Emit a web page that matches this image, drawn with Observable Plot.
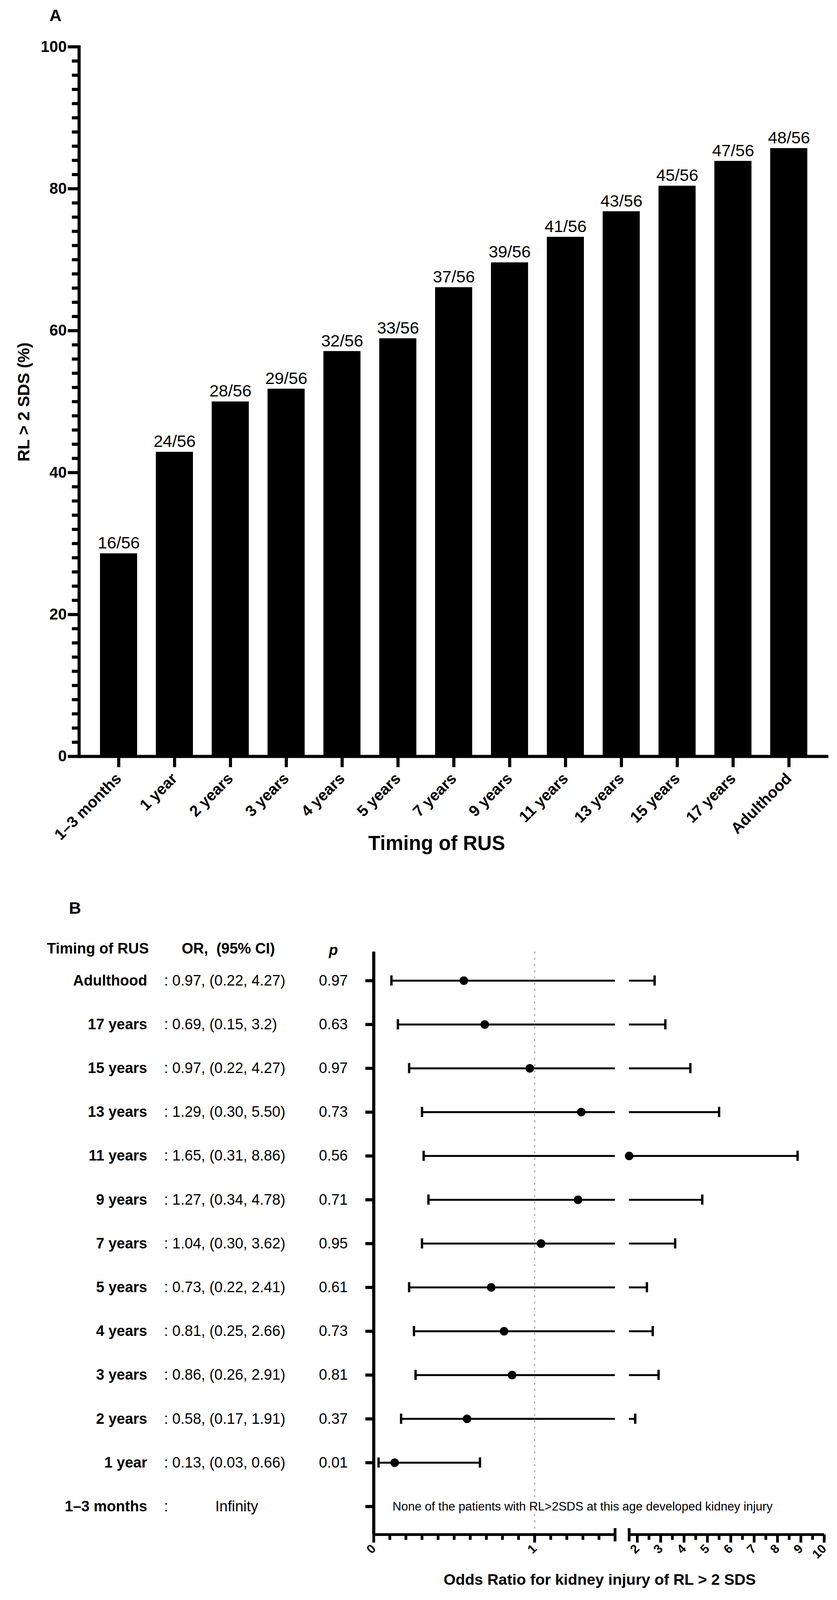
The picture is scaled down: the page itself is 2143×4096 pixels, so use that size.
<!DOCTYPE html>
<html>
<head>
<meta charset="utf-8">
<script src="https://cdn.jsdelivr.net/npm/d3@7"></script>
<script src="https://cdn.jsdelivr.net/npm/@observablehq/plot@0.6"></script>
<style>
html,body{margin:0;padding:0;background:#fff;}
body{width:2143px;height:4096px;overflow:hidden;}
#root{position:relative;width:2143px;height:4096px;font-family:"Liberation Sans",Arial,Helvetica,sans-serif;color:#000;}
.lbl{position:absolute;white-space:pre;line-height:1;transform:translate(-50%,-50%);font-weight:bold;}
</style>
</head>
<body>
<div id="root"></div>
<script>
// ---------- Panel A data ----------
const timings = ["1–3 months", "1 year", "2 years", "3 years", "4 years", "5 years", "7 years", "9 years", "11 years", "13 years", "15 years", "17 years", "Adulthood"];
const pctValues = [28.6, 42.9, 50.0, 51.8, 57.1, 58.9, 66.1, 69.6, 73.2, 76.8, 80.4, 83.9, 85.7];
const countLabels = ["16/56", "24/56", "28/56", "29/56", "32/56", "33/56", "37/56", "39/56", "41/56", "43/56", "45/56", "47/56", "48/56"];
const yMajorTicks = [0, 20, 40, 60, 80, 100];

// ---------- Panel B data ----------
const forestRows = ["Adulthood", "17 years", "15 years", "13 years", "11 years", "9 years", "7 years", "5 years", "4 years", "3 years", "2 years", "1 year", "1–3 months"];
const orLabels = [": 0.97, (0.22, 4.27)", ": 0.69, (0.15, 3.2)", ": 0.97, (0.22, 4.27)", ": 1.29, (0.30, 5.50)", ": 1.65, (0.31, 8.86)", ": 1.27, (0.34, 4.78)", ": 1.04, (0.30, 3.62)", ": 0.73, (0.22, 2.41)", ": 0.81, (0.25, 2.66)", ": 0.86, (0.26, 2.91)", ": 0.58, (0.17, 1.91)", ": 0.13, (0.03, 0.66)", ":"];
const pLabels = ["0.97", "0.63", "0.97", "0.73", "0.56", "0.71", "0.95", "0.61", "0.73", "0.81", "0.37", "0.01", ""];
// plotted positions
const oddsPlotted  = [0.56, 0.69, 0.97, 1.29, 1.65, 1.27, 1.04, 0.73, 0.81, 0.86, 0.58, 0.13, null];
const ciLowPlotted = [0.11, 0.15, 0.22, 0.30, 0.31, 0.34, 0.30, 0.22, 0.25, 0.26, 0.17, 0.03, null];
const ciHighPlotted = [2.74, 3.2, 4.27, 5.50, 8.86, 4.78, 3.62, 2.41, 2.66, 2.91, 1.91, 0.66, null];
const oddsMajorTicks = [0, 1, 2, 3, 4, 5, 6, 7, 8, 9, 10];
const oddsMinorTicks = [0.1, 0.2, 0.3, 0.4, 0.5, 0.6, 0.7, 0.8, 0.9, 1.1, 1.2, 1.3, 1.4, 2.5, 3.5, 4.5, 5.5, 6.5, 7.5, 8.5, 9.5];
const axisBreak = [1.5, 1.65];
const tableHeaders = ["Timing of RUS", "OR,  (95% CI)", "p"];
const infinityLabel = "Infinity";
const noneNote = "None of the patients with RL>2SDS at this age developed kidney injury";

// ---------- layout ----------
const W = 2143;
const FONT = '"Liberation Sans", Arial, Helvetica, sans-serif';
const root = document.getElementById("root");
const baseStyle = {fontFamily: FONT, color: "#000", background: "white", overflow: "visible"};

// ---------- Panel A ----------
const A_H = 2250;
const barData = timings.map((t, i) => ({timing: t, pct: pctValues[i], label: countLabels[i]}));
const yMinorTicks = d3.range(2, 100, 2).filter(v => v % 20 !== 0);

const plotA = Plot.plot({
  width: W,
  height: A_H,
  marginLeft: 202,
  marginRight: 22,
  marginTop: 119.4,
  marginBottom: A_H - 1936,
  style: baseStyle,
  x: {type: "band", domain: timings, padding: 0.337, label: null},
  y: {domain: [0, 100], label: null},
  marks: [
    Plot.barY(barData, {x: "timing", y: "pct", fill: "#000"}),
    Plot.text(barData, {x: "timing", y: "pct", text: "label", lineAnchor: "bottom", dy: -12.7, fontSize: 43, fill: "#000"}),
    Plot.ruleY([0], {stroke: "#000", strokeWidth: 8}),
    Plot.frame({anchor: "left", stroke: "#000", strokeWidth: 8}),
    Plot.axisY({ticks: yMajorTicks, tickSize: 28.5, tickPadding: 3, strokeWidth: 8, fontSize: 40, fontWeight: "bold", label: null}),
    Plot.axisY({ticks: yMinorTicks, tickSize: 18, tickFormat: () => "", strokeWidth: 8, label: null}),
    Plot.axisX({tickSize: 28, tickPadding: 22, strokeWidth: 8, tickRotate: -45, fontSize: 40, fontWeight: "bold", label: null})
  ]
});
plotA.style.position = "absolute";
plotA.style.left = "0px";
plotA.style.top = "0px";
root.appendChild(plotA);

// ---------- Panel B ----------
const B_TOP = 2250;
const B_H = 4096 - B_TOP;
const B_ML = 956.4, B_MR = W - 2109.8, B_MT = 186, B_MB = 168;
const oddsDomain = [0, 1.5, 1.65, 10];
const oddsRange = [956.4, 1574.3, 1610.3, 2109.8];
const yDom = [-0.66, 12.64];
const rowPx = (B_H - B_MT - B_MB) / (yDom[1] - yDom[0]);
const CAP = 13 / rowPx;

const rows = forestRows.map((r, i) => ({row: r, i, or: orLabels[i], p: pLabels[i]}));
const est = forestRows.map((r, i) => ({i, or: oddsPlotted[i], lo: ciLowPlotted[i], hi: ciHighPlotted[i]})).filter(d => d.or != null);
const segs = [];
est.forEach(d => {
  if (d.hi <= axisBreak[0]) segs.push({i: d.i, x1: d.lo, x2: d.hi});
  else {
    segs.push({i: d.i, x1: d.lo, x2: axisBreak[0]});
    if (d.hi > axisBreak[1]) segs.push({i: d.i, x1: axisBreak[1], x2: d.hi});
  }
});
const caps = est.flatMap(d => [{i: d.i, x: d.lo}, {i: d.i, x: d.hi}]);
const axisSegs = [{x1: oddsDomain[0], x2: axisBreak[0]}, {x1: axisBreak[1], x2: oddsDomain[3]}];
const infRow = forestRows.indexOf("1–3 months");

// table columns (px)
const LABEL_R = 376.5, HEAD1_R = 380.5, VALUE_L = 419.5, ORHEAD_C = 584, INF_C = 605.7, P_C = 853, NOTE_L = 1004.6;

const plotB = Plot.plot({
  width: W,
  height: B_H,
  marginLeft: B_ML,
  marginRight: B_MR,
  marginTop: B_MT,
  marginBottom: B_MB,
  style: baseStyle,
  x: {type: "linear", domain: oddsDomain, range: oddsRange, label: null},
  y: {type: "linear", domain: yDom, reverse: true, label: null},
  marks: [
    Plot.ruleX([1], {stroke: "#a8a8a8", strokeWidth: 3, strokeDasharray: "5,11"}),
    Plot.ruleY(segs, {y: "i", x1: "x1", x2: "x2", stroke: "#000", strokeWidth: 5}),
    Plot.ruleX(caps, {x: "x", y1: d => d.i - CAP, y2: d => d.i + CAP, stroke: "#000", strokeWidth: 6}),
    Plot.dot(est, {x: "or", y: "i", r: 11, fill: "#000", stroke: null}),
    Plot.ruleX([0], {stroke: "#000", strokeWidth: 8}),
    Plot.ruleY(axisSegs, {y: () => yDom[1], x1: "x1", x2: "x2", stroke: "#000", strokeWidth: 7}),
    Plot.ruleX(axisBreak, {y1: yDom[1] - 16 / rowPx, y2: yDom[1] + 18 / rowPx, stroke: "#000", strokeWidth: 7}),
    Plot.axisY({ticks: rows.map(d => d.i), tickSize: 21, tickFormat: () => "", strokeWidth: 8, label: null}),
    Plot.axisX({ticks: oddsMajorTicks, tickSize: 21, tickPadding: 10, tickRotate: -45, fontSize: 32, fontWeight: "bold", strokeWidth: 7, label: null}),
    Plot.axisX({ticks: oddsMinorTicks, tickSize: 14, tickFormat: () => "", strokeWidth: 7, label: null}),
    // table headers
    Plot.text([tableHeaders[0]], {frameAnchor: "top-left", dx: HEAD1_R - B_ML, dy: -8, textAnchor: "end", fontWeight: "bold", fontSize: 38, lineAnchor: "middle"}),
    Plot.text([tableHeaders[1]], {frameAnchor: "top-left", dx: ORHEAD_C - B_ML, dy: -8, textAnchor: "middle", fontWeight: "bold", fontSize: 38, lineAnchor: "middle"}),
    Plot.text([tableHeaders[2]], {frameAnchor: "top-left", dx: P_C - B_ML, dy: -4, textAnchor: "middle", fontWeight: "bold", fontStyle: "italic", fontSize: 38, lineAnchor: "middle"}),
    // table rows
    Plot.text(rows, {y: "i", text: "row", frameAnchor: "left", dx: LABEL_R - B_ML, textAnchor: "end", fontWeight: "bold", fontSize: 38}),
    Plot.text(rows, {y: "i", text: "or", frameAnchor: "left", dx: VALUE_L - B_ML, textAnchor: "start", fontSize: 38}),
    Plot.text(rows, {y: "i", text: "p", frameAnchor: "left", dx: P_C - B_ML, textAnchor: "middle", fontSize: 38}),
    Plot.text([infinityLabel], {y: () => infRow, frameAnchor: "left", dx: INF_C - B_ML, textAnchor: "middle", fontSize: 38}),
    Plot.text([noneNote], {y: () => infRow, frameAnchor: "left", dx: NOTE_L - B_ML, textAnchor: "start", fontSize: 31})
  ]
});
plotB.style.position = "absolute";
plotB.style.left = "0px";
plotB.style.top = B_TOP + "px";
root.appendChild(plotB);

// ---------- titles ----------
function addLabel(text, x, y, size, rotate) {
  const d = document.createElement("div");
  d.className = "lbl";
  d.textContent = text;
  d.style.left = x + "px";
  d.style.top = y + "px";
  d.style.fontSize = size + "px";
  if (rotate) d.style.transform = "translate(-50%,-50%) rotate(" + rotate + "deg)";
  root.appendChild(d);
}
addLabel("A", 142, 39, 43);
addLabel("RL > 2 SDS (%)", 60.5, 1028.5, 42.5, -90);
addLabel("Timing of RUS", 1118, 2158, 51);
addLabel("B", 192, 2324, 43);
addLabel("Odds Ratio for kidney injury of RL > 2 SDS", 1535.5, 4044, 39.5);
</script>
</body>
</html>
